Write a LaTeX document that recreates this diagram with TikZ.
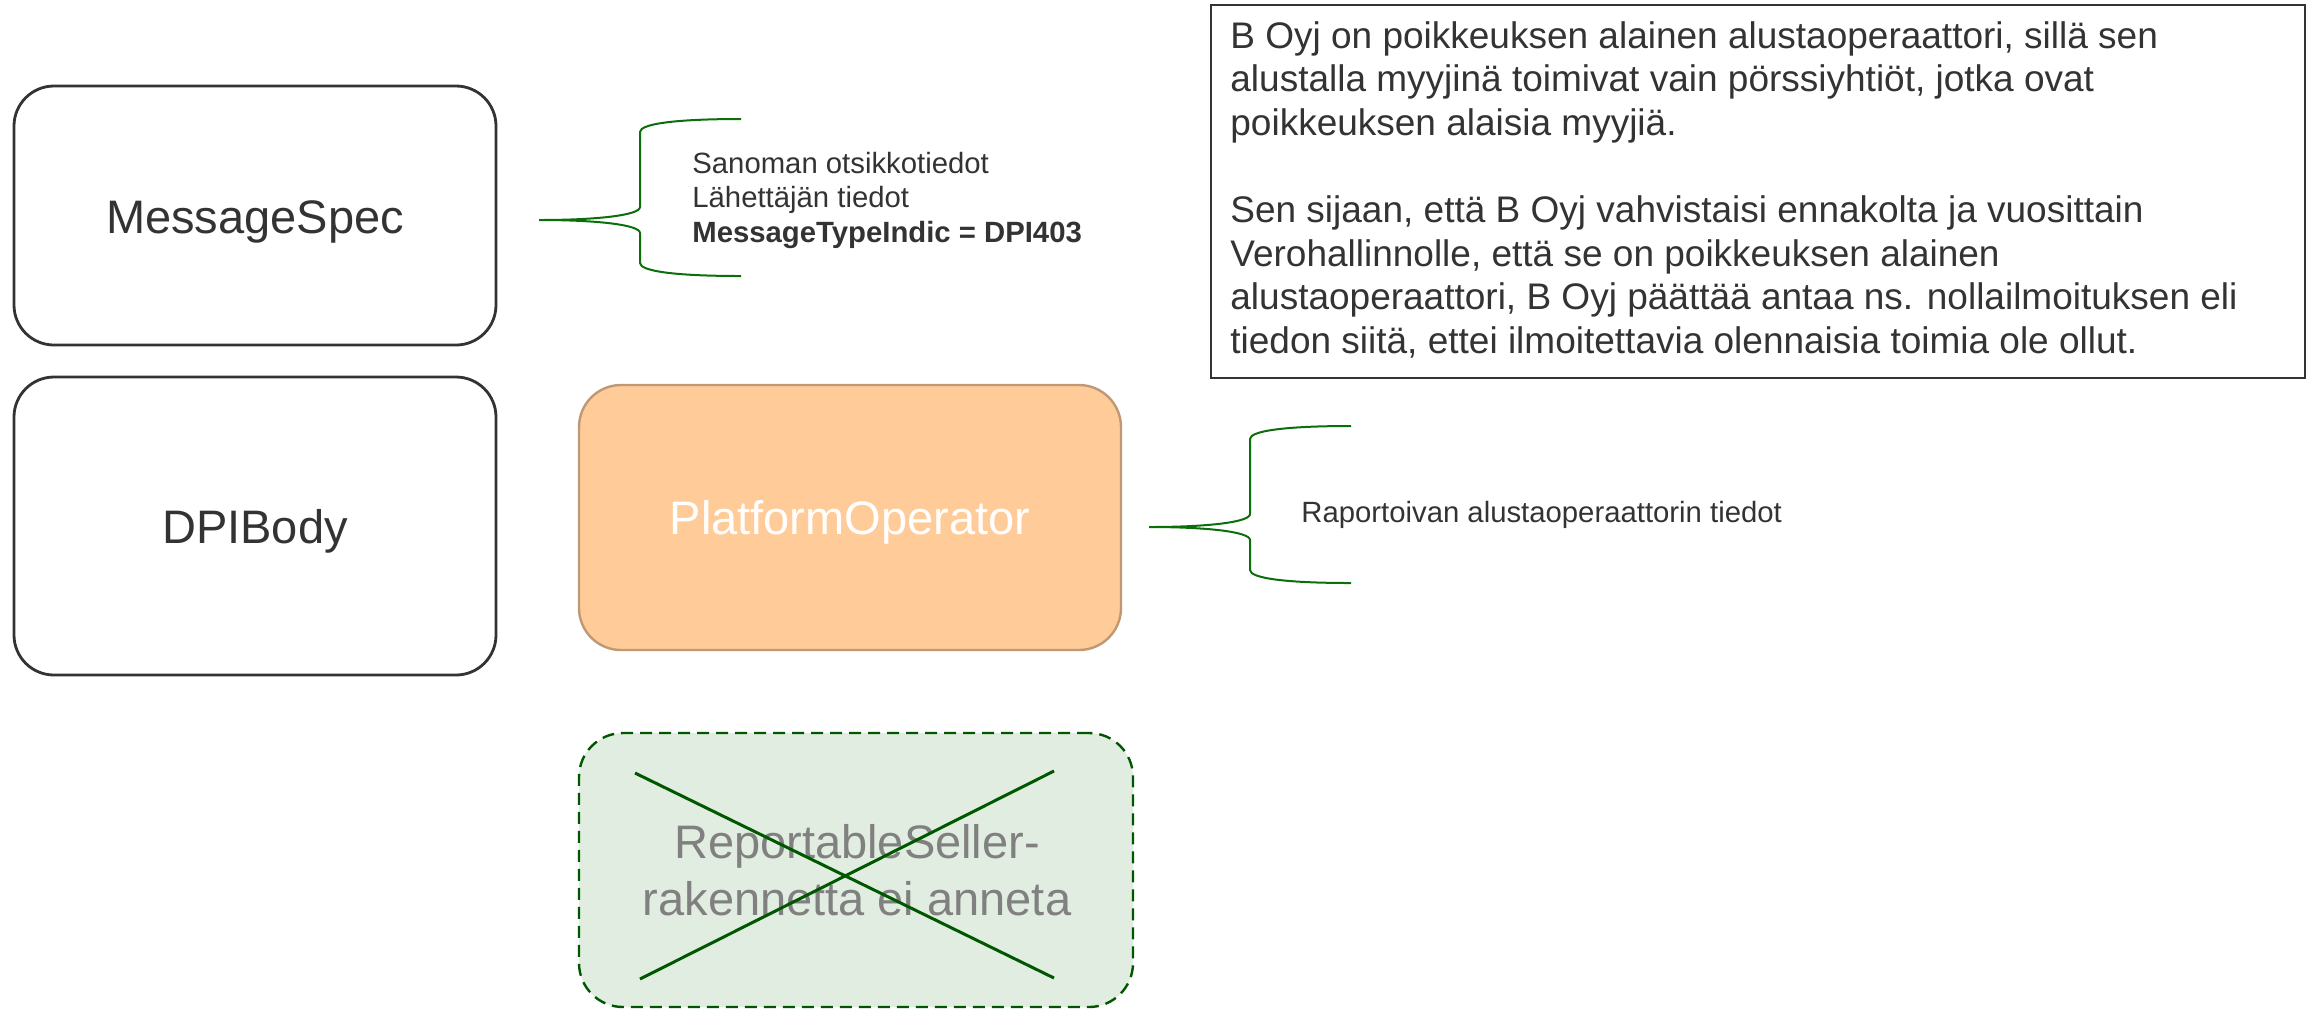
\documentclass[tikz,border=0pt]{standalone}
\usepackage{fontspec}
\setmainfont{Liberation Sans}
\definecolor{ink}{HTML}{333333}
\definecolor{pofill}{HTML}{FFCC99}
\definecolor{podraw}{HTML}{C09873}
\definecolor{rsfill}{HTML}{E1EDE0}
\definecolor{rsdraw}{HTML}{005700}
\definecolor{brc}{HTML}{0A6E0A}
\definecolor{graytext}{HTML}{808080}
\begin{document}
\begin{tikzpicture}[x=0.5pt,y=-0.5pt,
  box/.style={draw=ink, line width=1.4pt, rounded corners=20pt, fill=white, inner sep=0},
  pobox/.style={draw=podraw, line width=1.2pt, rounded corners=21pt, fill=pofill, inner sep=0},
  rsbox/.style={draw=rsdraw, line width=1.2pt, dash pattern=on 6pt off 3.5pt, rounded corners=22pt, fill=rsfill, inner sep=0},
  notebox/.style={draw=ink, line width=1.4pt, fill=white, inner sep=0},
  bigtext/.style={font=\fontsize{23.5}{28.5}\selectfont, inner sep=0, anchor=base},
  smalltext/.style={font=\fontsize{14.65}{17.25}\selectfont, text=ink, inner sep=0, anchor=base west},
  notetext/.style={font=\fontsize{18.5}{21.8}\selectfont, text=ink, inner sep=0, anchor=base west},
  bracecurve/.style={draw=brc, line width=1pt},
  crossline/.style={draw=rsdraw, line width=1.5pt},
  curly/.pic={\draw[bracecurve] (202,-101) .. controls (135,-101) and (101,-96) .. (101,-88) -- (101,-13) .. controls (101,-5) and (60,0) .. (0,0) .. controls (60,0) and (101,5) .. (101,13) -- (101,43) .. controls (101,51) and (135,56) .. (202,56);}
]
\useasboundingbox (0,0) rectangle (2310,1009);

% boxes
\node[box, minimum width=241pt, minimum height=129.5pt] (msgspec) at (255,215.5) {};
\node[bigtext, text=ink] (msgspect) at (255,233) {MessageSpec};

\node[box, minimum width=241pt, minimum height=149pt] (dpibody) at (255,526) {};
\node[bigtext, text=ink] (dpibodyt) at (255,543) {DPIBody};

\node[pobox, minimum width=271pt, minimum height=132.5pt] (po) at (850,517.5) {};
\node[bigtext, text=white] (pot) at (850,534) {PlatformOperator};

\node[rsbox, minimum width=277pt, minimum height=137pt] (rs) at (856,870) {};
\node[bigtext, text=graytext] (rst1) at (857,858) {ReportableSeller-};
\node[bigtext, text=graytext] (rst2) at (857,915) {rakennetta ei anneta};
\coordinate (c1) at (635,773);
\coordinate (c2) at (1054,978);
\coordinate (c3) at (640,979);
\coordinate (c4) at (1054,771);
\draw[crossline] (c1) -- (c2);
\draw[crossline] (c3) -- (c4);

% note
\node[notebox, minimum width=547pt, minimum height=186.5pt] (note) at (1758,191.5) {};
\node[notetext] (notet) at (1230,48) {\vtop{\hbox{B Oyj on poikkeuksen alainen alustaoperaattori, sillä sen}\hbox{alustalla myyjinä toimivat vain pörssiyhtiöt, jotka ovat}\hbox{poikkeuksen alaisia myyjiä.}\hbox{}\hbox{Sen sijaan, että B Oyj vahvistaisi ennakolta ja vuosittain}\hbox{Verohallinnolle, että se on poikkeuksen alainen}\hbox{alustaoperaattori, B Oyj päättää antaa ns. nollailmoituksen eli}\hbox{tiedon siitä, ettei ilmoitettavia olennaisia toimia ole ollut.}}};

% braces and labels
\pic (brace1) at (539,220) {curly};
\node[smalltext] (msgdesc) at (692,173) {\vtop{\hbox{Sanoman otsikkotiedot}\hbox{Lähettäjän tiedot}\hbox{\bfseries MessageTypeIndic = DPI403}}};

\pic (brace2) at (1149,527) {curly};
\node[smalltext] (podesc) at (1301,522) {Raportoivan alustaoperaattorin tiedot};
\end{tikzpicture}
\end{document}
